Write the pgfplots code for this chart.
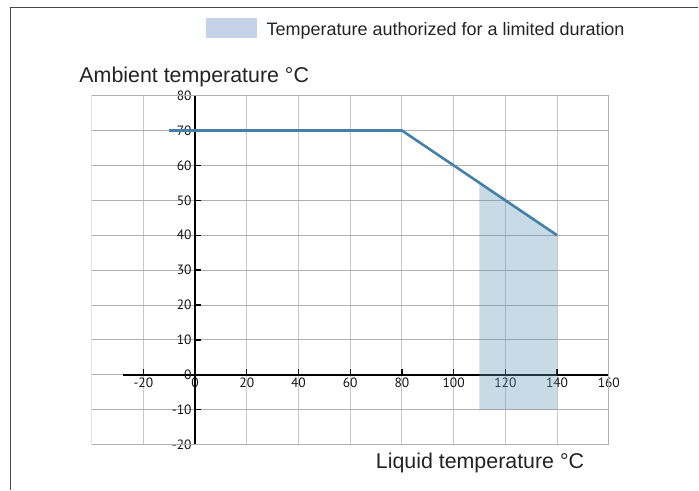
\documentclass[border=0pt]{standalone}
\usepackage{fontspec}
\setmainfont{Liberation Sans}
\newfontfamily\tickfont{PT Sans}
\usepackage{pgfplots}
\pgfplotsset{compat=1.18}
\definecolor{linecol}{RGB}{68,128,168}
\definecolor{shadecol}{RGB}{98,149,184}
\definecolor{legcol}{RGB}{198,210,232}
\definecolor{txt}{RGB}{35,35,35}
\definecolor{ticktxt}{RGB}{20,20,20}
\definecolor{gridv}{RGB}{200,200,200}
\definecolor{gridh}{RGB}{175,175,175}
\definecolor{framecol}{RGB}{70,70,70}
\begin{document}
\begin{tikzpicture}[x=1pt,y=1pt]
\begin{axis}[
  at={(91.7pt,45pt)}, anchor=south west,
  scale only axis, width=517.6pt, height=349.3pt,
  xmin=-40, xmax=160, ymin=-20, ymax=80,
  axis lines=middle,
  axis line style={-, black, line width=1.8pt},
  every inner x axis line/.append style={-},
  every inner y axis line/.append style={-},
  x axis line style={shorten <=31.06pt},
  xtick={-20,0,...,160}, ytick={-20,-10,...,80},
  hide obscured x ticks=false, hide obscured y ticks=false,
  tick align=inside, major tick length=6pt,
  tick style={black, line width=1.4pt},
  grid=major,
  major x grid style={gridv, line width=0.9pt},
  major y grid style={gridh, line width=0.9pt},
  ticklabel style={font=\tickfont\fontsize{13.5}{15}\selectfont, text=ticktxt},
  /pgf/number format/assume math mode=true,
]
\addplot[draw=none, fill=shadecol, fill opacity=0.35] coordinates {(110,-10) (110,55) (140,40) (140,-10)} -- cycle;
\addplot[linecol, line width=2.6pt, line join=round] coordinates {(-10,70) (80,70) (140,40)};
\draw[gridh, line width=0.9pt] (rel axis cs:0,0) rectangle (rel axis cs:1,1);
\end{axis}
\draw[framecol, line width=1.2pt] (10.3,0) -- (10.3,482.7) -- (699,482.7);
\fill[legcol] (206,451.7) rectangle (257.7,472.3);
\node[anchor=base west, inner sep=0pt, text=txt, font=\fontsize{18}{21}\selectfont] at (266.7,454.3) {Temperature authorized for a limited duration};
\node[anchor=base west, inner sep=0pt, text=txt, font=\fontsize{21.4}{25}\selectfont] at (79.3,407.7) {Ambient temperature °C};
\node[anchor=base west, inner sep=0pt, text=txt, font=\fontsize{21.4}{25}\selectfont] at (376,20.7) {Liquid temperature °C};
\path[use as bounding box] (0,0) rectangle (699,490);
\end{tikzpicture}
\end{document}
